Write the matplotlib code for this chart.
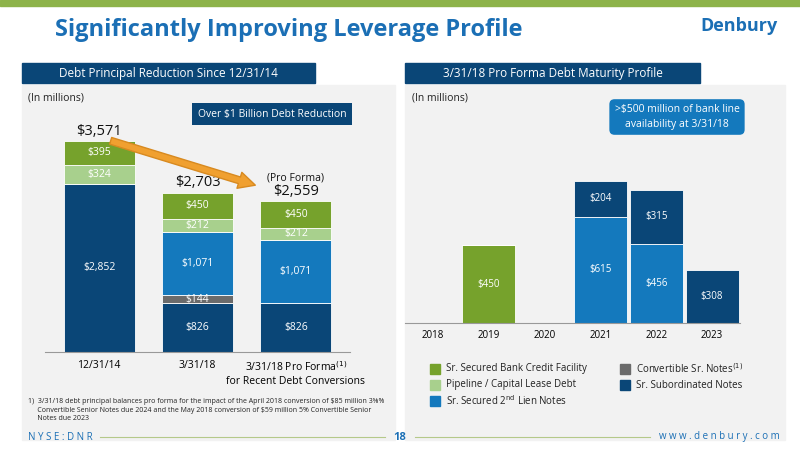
import matplotlib
matplotlib.use("Agg")
import matplotlib.pyplot as plt
from matplotlib.patches import Rectangle, FancyArrowPatch

plt.rcParams['font.family'] = ['Open Sans', 'DejaVu Sans']

# Left chart data
left_cats = ["12/31/14", "3/31/18", "3/31/18 Pro Forma$^{(1)}$\nfor Recent Debt Conversions"]
sub_notes = [2852, 826, 826]
conv_notes = [0, 144, 0]
second_lien = [0, 1071, 1071]
pipeline = [324, 212, 212]
bank = [395, 450, 450]
totals = ["$3,571", "$2,703", "$2,559"]

# Right chart data
years = ["2018", "2019", "2020", "2021", "2022", "2023"]
r_bank = [0, 450, 0, 0, 0, 0]
r_second = [0, 0, 0, 615, 456, 0]
r_sub = [0, 0, 0, 204, 315, 308]

C_NAVY = "#0a4677"
C_BLUE = "#1479bd"
C_GREEN = "#76a22c"
C_LGREEN = "#a8d08d"
C_GREY = "#6b6b6b"
C_HEAD = "#1b6fb5"

fig = plt.figure(figsize=(8, 4.5), dpi=100)
W, H = 800, 450
def fx(x): return x / W
def fy(y): return 1 - y / H

# background panels
for x0, x1 in [(22, 395), (405, 785)]:
    fig.patches.append(Rectangle((fx(x0), fy(440)), fx(x1 - x0), (440 - 85) / H,
                                 transform=fig.transFigure, color="#f2f2f2", zorder=0))
# top stripe
fig.patches.append(Rectangle((0, fy(6)), 1, 6 / H, transform=fig.transFigure, color="#8db34a", zorder=0))
# header boxes
for x0, x1, t in [(22, 315, "Debt Principal Reduction Since 12/31/14"),
                  (405, 700, "3/31/18 Pro Forma Debt Maturity Profile")]:
    fig.patches.append(Rectangle((fx(x0), fy(83)), fx(x1 - x0), 20 / H,
                                 transform=fig.transFigure, color=C_NAVY, zorder=1))
    fig.text(fx((x0 + x1) / 2), fy(73), t, color="white", fontsize=8.5, ha="center", va="center")
fig.text(fx(55), fy(30), "Significantly Improving Leverage Profile", color=C_HEAD,
         fontsize=17, fontweight="bold", va="center")
fig.text(fx(778), fy(26), "Denbury", color=C_HEAD, fontsize=13, fontweight="bold", ha="right", va="center")
fig.text(fx(28), fy(98), "(In millions)", fontsize=7.5, color="#222222", va="center")
fig.text(fx(412), fy(98), "(In millions)", fontsize=7.5, color="#222222", va="center")

# callout boxes
fig.text(fx(272), fy(114), "Over $1 Billion Debt Reduction", fontsize=7.5, color="white", ha="center", va="center",
         bbox=dict(boxstyle="square,pad=0.5", fc=C_NAVY, ec="none"))
fig.text(fx(677), fy(117), ">$500 million of bank line\navailability at 3/31/18", fontsize=7.5, color="white",
         ha="center", va="center", linespacing=1.4,
         bbox=dict(boxstyle="round,pad=0.5", fc=C_BLUE, ec="none"))

# left chart
axL = fig.add_axes([fx(45), fy(352), fx(305), (352 - 116) / H])
axL.set_zorder(3)
x = range(3)
bw = 0.72
layers = [(sub_notes, C_NAVY), (conv_notes, C_GREY), (second_lien, C_BLUE), (pipeline, C_LGREEN), (bank, C_GREEN)]
bottom = [0, 0, 0]
for vals, col in layers:
    axL.bar(x, vals, bw, bottom=bottom, color=col, edgecolor="white", linewidth=0.6)
    for i, v in enumerate(vals):
        if v:
            axL.text(i, bottom[i] + v / 2, f"${v:,}", ha="center", va="center", color="white", fontsize=7.5)
    bottom = [b + v for b, v in zip(bottom, vals)]
for i, t in enumerate(totals):
    axL.text(i, bottom[i] + 40, t, ha="center", va="bottom", fontsize=10.5, color="#111111")
axL.text(2, bottom[2] + 290, "(Pro Forma)", ha="center", va="bottom", fontsize=7.5, color="#111111")
axL.set_ylim(0, 4000)
axL.set_xlim(-0.55, 2.55)
axL.set_xticks(list(x))
axL.set_xticklabels(left_cats, fontsize=7.5)
axL.set_yticks([])
for s in ["top", "right", "left"]:
    axL.spines[s].set_visible(False)
axL.spines["bottom"].set_color("#999999")
axL.tick_params(axis="x", length=0, pad=6)
axL.patch.set_alpha(0)

# arrow
arr = FancyArrowPatch((fx(108), fy(140)), (fx(258), fy(186)), transform=fig.transFigure,
                      arrowstyle="simple,head_width=12,head_length=12,tail_width=5",
                      color="#f0a030", ec="#d88a20", zorder=5)
fig.add_artist(arr)
arr.set_zorder(10)

# footnote
fig.text(fx(28), fy(410), "1)  3/31/18 debt principal balances pro forma for the impact of the April 2018 conversion of $85 million 3⅝%\n"
         "     Convertible Senior Notes due 2024 and the May 2018 conversion of $59 million 5% Convertible Senior\n"
         "     Notes due 2023", fontsize=5.0, color="#222222", va="center", linespacing=1.3)

# right chart
axR = fig.add_axes([fx(405), fy(323), fx(335), 173 / H])
axR.set_zorder(3)
xr = range(len(years))
bottom = [0] * 6
for vals, col in [(r_bank, C_GREEN), (r_second, C_BLUE), (r_sub, C_NAVY)]:
    axR.bar(xr, vals, 0.95, bottom=bottom, color=col, edgecolor="white", linewidth=0.6)
    for i, v in enumerate(vals):
        if v:
            axR.text(i, bottom[i] + v / 2, f"${v}", ha="center", va="center", color="white", fontsize=7)
    bottom = [b + v for b, v in zip(bottom, vals)]
axR.set_ylim(0, 1000)
axR.set_xlim(-0.5, 5.5)
axR.set_xticks(list(xr))
axR.set_xticklabels(years, fontsize=7)
axR.set_yticks([])
for s in ["top", "right", "left"]:
    axR.spines[s].set_visible(False)
axR.spines["bottom"].set_color("#999999")
axR.tick_params(axis="x", length=0, pad=5)
axR.patch.set_alpha(0)

# legend
leg = [(430, 369, C_GREEN, "Sr. Secured Bank Credit Facility"),
       (430, 385, C_LGREEN, "Pipeline / Capital Lease Debt"),
       (430, 401, C_BLUE, "Sr. Secured 2$^{\\mathrm{nd}}$ Lien Notes"),
       (620, 369, C_GREY, "Convertible Sr. Notes$^{(1)}$"),
       (620, 385, C_NAVY, "Sr. Subordinated Notes")]
for lx, ly, col, t in leg:
    fig.patches.append(Rectangle((fx(lx), fy(ly + 5)), fx(10), 10 / H, transform=fig.transFigure, color=col))
    fig.text(fx(lx + 16), fy(ly), t, fontsize=7, va="center", color="#222222")

# footer
fig.text(fx(28), fy(437), "N Y S E : D N R", fontsize=7, color="#1b6fb5", va="center")
fig.text(fx(400), fy(437), "18", fontsize=8, color="#1b6fb5", va="center", ha="center", fontweight="bold")
fig.text(fx(780), fy(437), "w w w . d e n b u r y . c o m", fontsize=7, color="#1b6fb5", va="center", ha="right")
fig.add_artist(plt.Line2D([fx(100), fx(385)], [fy(437)] * 2, color="#b5c98a", lw=0.8))
fig.add_artist(plt.Line2D([fx(415), fx(650)], [fy(437)] * 2, color="#b5c98a", lw=0.8))

fig.savefig("out.png", dpi=100)
